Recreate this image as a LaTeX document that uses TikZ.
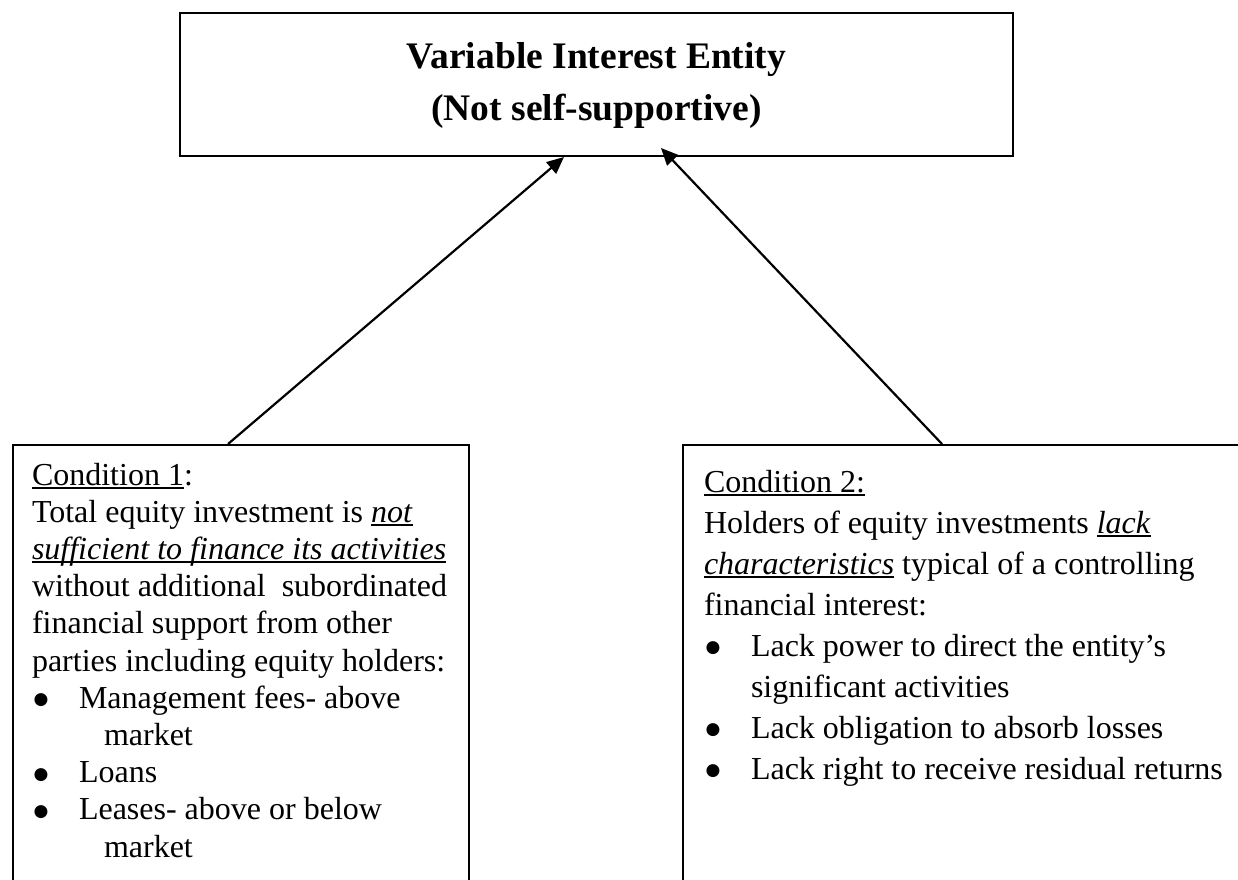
\documentclass[tikz,border=0pt]{standalone}
\usepackage{fontspec}
\setmainfont{Liberation Serif}
\newfontfamily\symfont{DejaVu Sans}
\usetikzlibrary{arrows.meta}
\newcommand\myul[1]{\setbox0\hbox{#1}\leavevmode\rlap{\rule[-3.5pt]{\wd0}{1.6pt}}\box0\relax}
\newcommand\bul{\makebox[47pt][l]{\hspace{1.5pt}\raisebox{3.5pt}[0pt][0pt]{\symfont\fontsize{17}{0}\selectfont ●}}}
\newcommand\cont{\hspace*{72pt}}
\begin{document}
\begin{tikzpicture}[x=1pt,y=-1pt,
  box/.style={draw, line width=2pt, inner sep=0pt, anchor=north west},
  body/.style={anchor=north west, inner sep=0pt, outer sep=0pt, align=left},
  arr/.style={line width=2.2pt, -{Triangle[length=17pt,width=15pt]}}]
\useasboundingbox (0,0) rectangle (1238,879);
\node[box, minimum width=833pt, minimum height=143pt, align=center,
  font=\bfseries\fontsize{37.5}{52}\selectfont] (vie) at (179,12)
  {\strut Variable Interest Entity\\(Not self-supportive)\strut};
\node[box, minimum width=456pt, minimum height=470pt] (c1) at (12,444) {};
\node[box, minimum width=590pt, minimum height=470pt] (c2) at (682,444) {};
\node[body, font=\fontsize{32}{37.2}\selectfont] (c1t) at (32,458.96)
  {\strut\myul{Condition 1}:\\
   Total equity investment is \myul{\textit{not}}\\
   \myul{\textit{sufficient to finance its activities}}\\
   without additional\ \ subordinated\\
   financial support from other\\
   parties including equity holders:\\
   \bul Management fees- above\\
   \cont market\\
   \bul Loans\\
   \bul Leases- above or below\\
   \cont market};
\node[body, font=\fontsize{32}{41}\selectfont] (c2t) at (704,463.3)
  {\strut\myul{Condition 2:}\\
   Holders of equity investments \myul{\textit{lack}}\\
   \myul{\textit{characteristics}} typical of a controlling\\
   financial interest:\\
   \bul Lack power to direct the entity’s\\
   \hspace*{47pt}significant activities\\
   \bul Lack obligation to absorb losses\\
   \bul Lack right to receive residual returns};
\coordinate (a1) at ([xshift=216pt]c1.north west);
\coordinate (t1) at ([xshift=-32.5pt]vie.south);
\coordinate (a2) at ([xshift=260pt]c2.north west);
\coordinate (t2) at ([xshift=64.5pt,yshift=9pt]vie.south);
\draw[arr] (a1) -- (t1);
\draw[arr] (a2) -- (t2);
\end{tikzpicture}
\end{document}
